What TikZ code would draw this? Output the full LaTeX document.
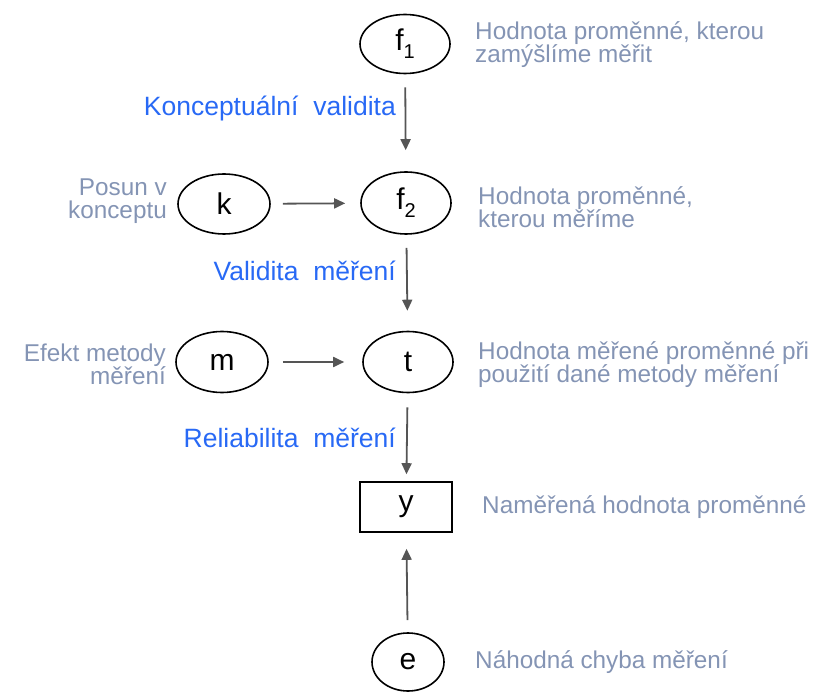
\documentclass[tikz,border=0pt]{standalone}
\usepackage{fontspec}
\setmainfont{Liberation Sans}
\usetikzlibrary{shapes.geometric,arrows.meta}
\definecolor{graytxt}{RGB}{132,148,180}
\definecolor{bluetxt}{RGB}{40,105,245}
\definecolor{arrowc}{RGB}{85,85,85}
\newcommand{\subidx}[1]{\raisebox{-8pt}{\fontsize{20}{20}\selectfont #1}}
\tikzset{
  var/.style={ellipse,draw=black,line width=1.6pt,inner sep=0pt,font=\fontsize{30}{30}\selectfont},
  obs/.style={rectangle,draw=black,line width=1.6pt,inner sep=0pt,minimum width=92pt,minimum height=50pt,font=\fontsize{30}{30}\selectfont},
  note/.style={text=graytxt,inner sep=0pt,font=\fontsize{24.3}{23}\selectfont},
  lbl/.style={text=bluetxt,inner sep=0pt,font=\fontsize{26.5}{26}\selectfont},
  conn/.style={draw=arrowc,line width=1.8pt,-{Triangle[length=11pt,width=10pt]}}
}
\begin{document}
\begin{tikzpicture}[x=1pt,y=-1pt]
\useasboundingbox (0,0) rectangle (832,692);
% nodes
\node[var,minimum width=90pt,minimum height=59pt] (f1) at (405,44) {f\subidx{1}};
\node[var,minimum width=90pt,minimum height=62pt] (f2) at (406,203) {f\subidx{2}};
\node[var,minimum width=92pt,minimum height=60pt] (k) at (224,204) {k};
\node[var,minimum width=92pt,minimum height=61pt] (m) at (222,362) {m};
\node[var,minimum width=90pt,minimum height=61pt] (t) at (408,362) {t};
\node[obs] (y) at (406,507) {y};
\node[var,minimum width=72pt,minimum height=58pt] (e) at (408,662) {e};
% notes
\node[note,anchor=west,align=left] (n1) at (475,45) {Hodnota proměnné, kterou\\zamýšlíme měřit};
\node[note,anchor=west,align=left] (n2) at (478,207) {Hodnota proměnné,\\kterou měříme};
\node[note,anchor=west,align=left] (n3) at (478,365) {Hodnota měřené proměnné při\\použití dané metody měření};
\node[note,anchor=west] (n4) at (482,507) {Naměřená hodnota proměnné};
\node[note,anchor=west] (n5) at (475,662) {Náhodná chyba měření};
\node[note,anchor=east,align=right] (n6) at (167,201) {Posun v\\konceptu};
\node[note,anchor=east,align=right] (n7) at (166,364) {Efekt metody\\měření};
% blue labels
\node[lbl,anchor=east] (l1) at (396,108) {Konceptuální\ \ validita};
\node[lbl,anchor=east] (l2) at (396,271) {Validita\ \ měření};
\node[lbl,anchor=east] (l3) at (396,438) {Reliabilita\ \ měření};
% connectors
\draw[conn,shorten <=13pt,shorten >=21pt] (f1) -- (f2);
\draw[conn,shorten <=13pt,shorten >=20pt] (f2) -- (t);
\draw[conn,shorten <=14pt,shorten >=7pt] (t) -- (y);
\draw[conn,shorten <=12pt,shorten >=16pt] (e) -- (y);
\draw[conn,shorten <=12pt,shorten >=15pt] (k) -- (f2);
\draw[conn,shorten <=14pt,shorten >=18pt] (m) -- (t);
\end{tikzpicture}
\end{document}
